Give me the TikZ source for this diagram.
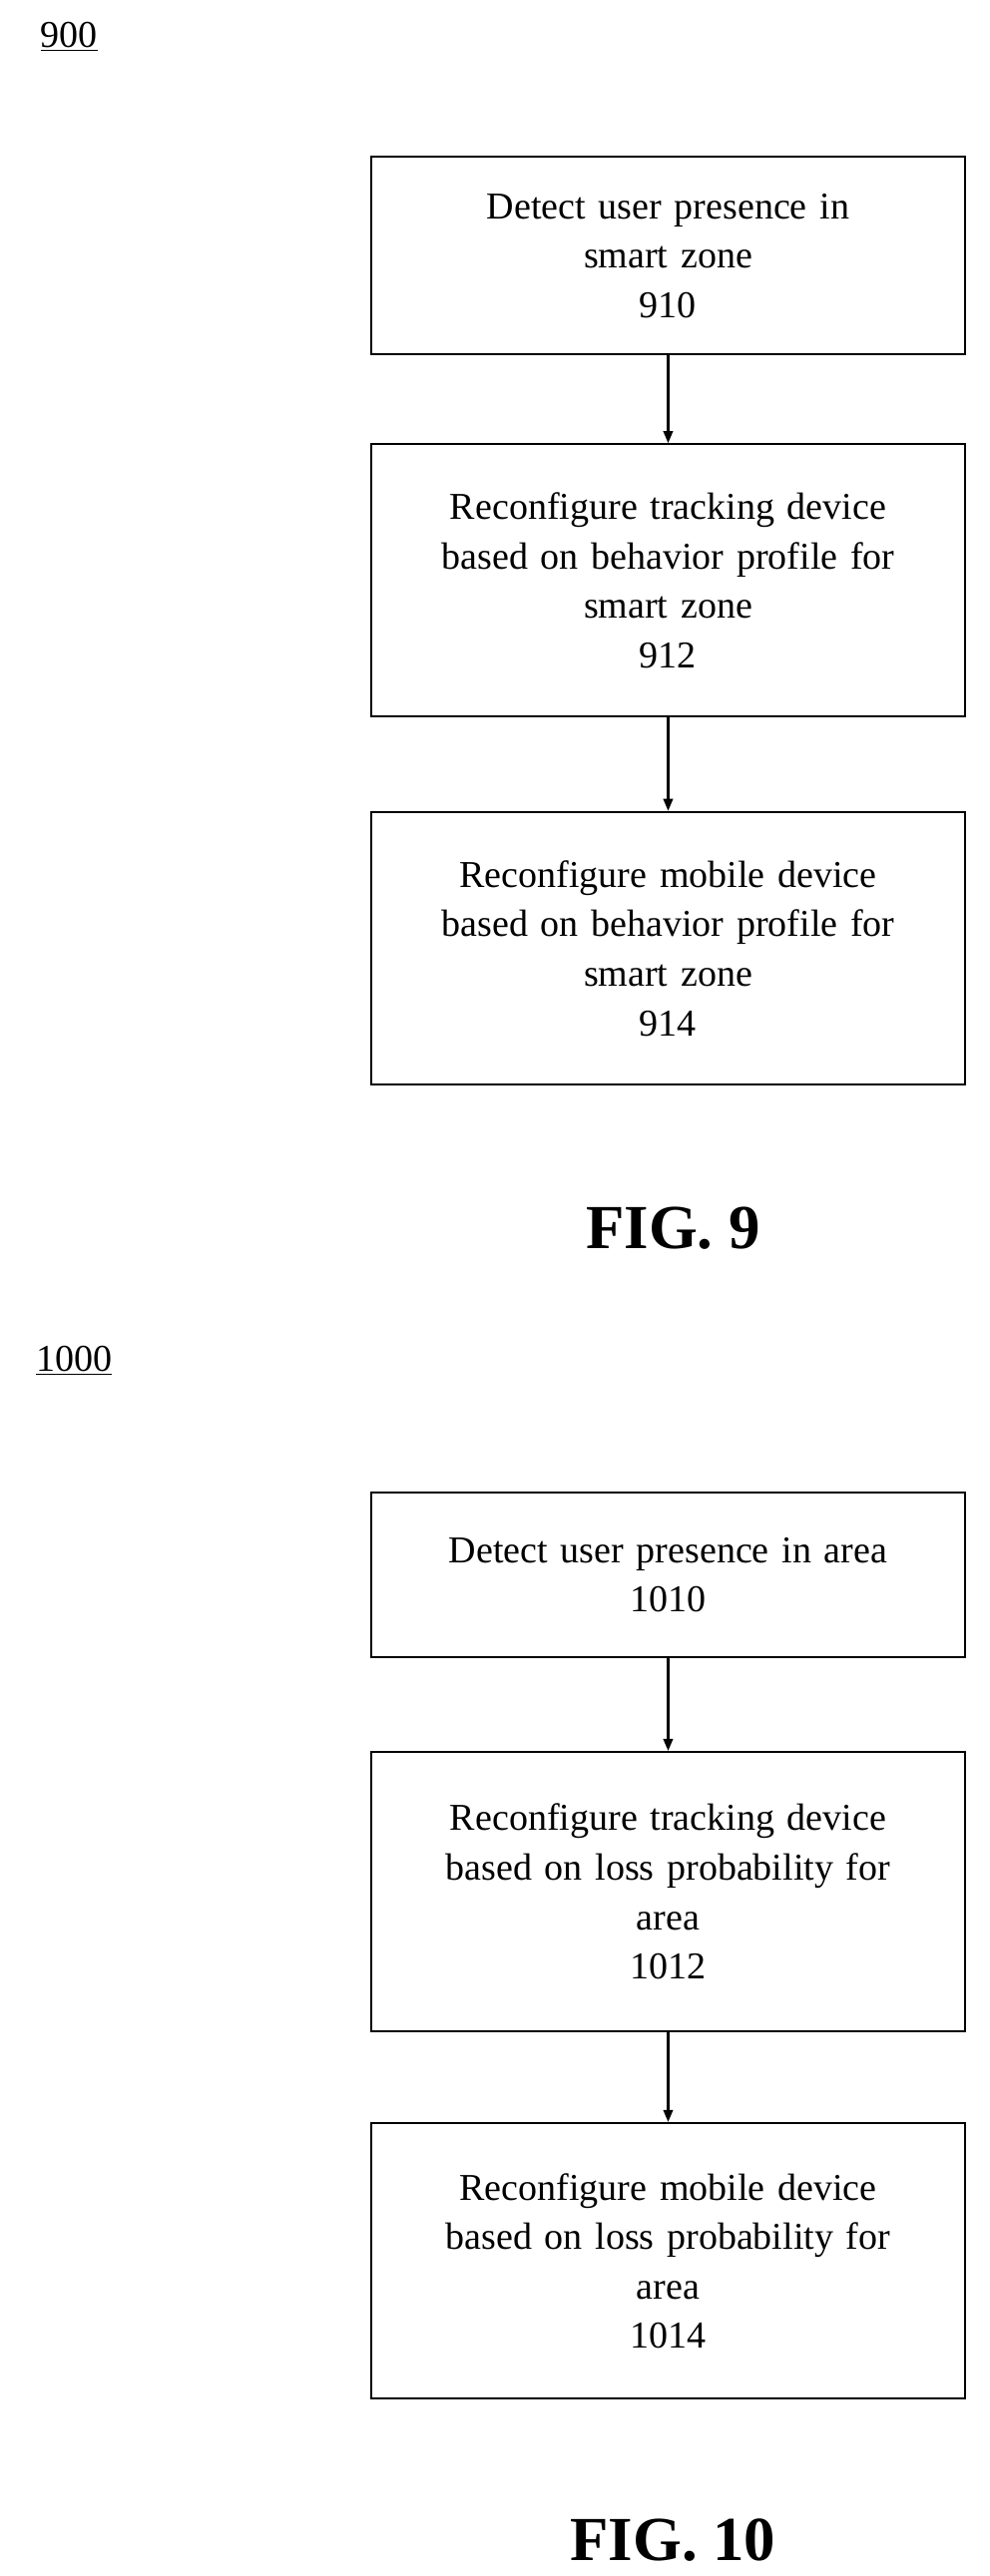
\documentclass[tikz,border=0pt]{standalone}
\usepackage{fontspec}
\setmainfont{Liberation Serif}
\usetikzlibrary{arrows.meta, positioning}

\begin{document}
\begin{tikzpicture}[ x = 1pt, y = -1pt
                   , font = \fontsize{23}{30}\selectfont
                   , >={Triangle[width=0.55em, length=0.75em]}
                   , box/.style = { rectangle
                                  , draw = black
                                  , line width = 1.2pt
                                  , align = center
                                  , text width = 345pt
                                  , minimum width = 360pt }
                   , flow/.style = { ->, line width = 2.2pt }
                   , fig/.style = { font = \fontsize{38}{40}\selectfont\bfseries }
                   ]

  \useasboundingbox (0,0) rectangle (600,1562);

  % FIG. 9
  \node (label900) at (42,22) {\underline{900}};
  \node (s910) [box, minimum height = 120pt] at (405,155)
    {Detect user presence in\\ smart zone\\ 910};
  \node (s912) [box, minimum height = 165pt] at (405,352)
    {Reconfigure tracking device\\ based on behavior profile for\\ smart zone\\ 912};
  \node (s914) [box, minimum height = 165pt] at (405,575)
    {Reconfigure mobile device\\ based on behavior profile for\\ smart zone\\ 914};
  \node (fig9) [fig] at (408,745) {FIG. 9};

  \draw[flow] (s910) -- (s912);
  \draw[flow] (s912) -- (s914);

  % FIG. 10
  \node (label1000) at (45,825) {\underline{1000}};
  \node (s1010) [box, minimum height = 100pt] at (405,955)
    {Detect user presence in area\\ 1010};
  \node (s1012) [box, minimum height = 169pt] at (405,1147)
    {Reconfigure tracking device\\ based on loss probability for\\ area\\ 1012};
  \node (s1014) [box, minimum height = 167pt] at (405,1371)
    {Reconfigure mobile device\\ based on loss probability for\\ area\\ 1014};
  \node (fig10) [fig] at (408,1540) {FIG. 10};

  \draw[flow] (s1010) -- (s1012);
  \draw[flow] (s1012) -- (s1014);

\end{tikzpicture}
\end{document}
